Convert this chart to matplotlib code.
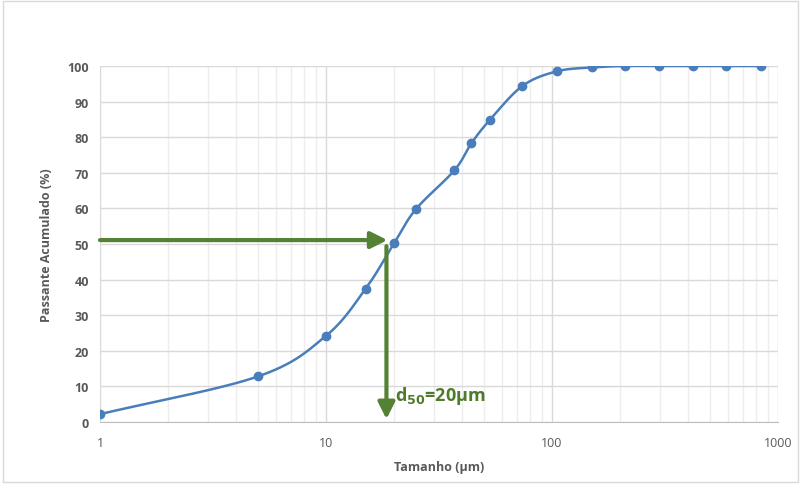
import numpy as np
import matplotlib.pyplot as plt
from matplotlib.patches import Rectangle

# particle size (um) and cumulative passing (%)
tamanho = [1, 5, 10, 15, 20, 25, 37, 44, 53, 74, 105, 150, 210, 297, 420, 590, 840]
passante = [2.2, 12.8, 24.2, 37.5, 50.2, 59.8, 70.7, 78.3, 84.8, 94.4, 98.5, 99.6, 100, 100, 100, 100, 100]

d50_x = 18.7
d50_y = 51.1
y_ticks = list(range(0, 101, 10))
x_ticks = [1, 10, 100, 1000]


def smooth_curve(xs, ys, n=30):
    # catmull-rom through the points in (log x, y) space
    px = np.log10(xs) * 35.6
    py = np.array(ys, dtype=float)
    px = np.concatenate([[2 * px[0] - px[1]], px, [2 * px[-1] - px[-2]]])
    py = np.concatenate([[2 * py[0] - py[1]], py, [2 * py[-1] - py[-2]]])
    out_x, out_y = [], []
    t = np.linspace(0, 1, n)
    for i in range(1, len(px) - 2):
        for arr, out in ((px, out_x), (py, out_y)):
            p0, p1, p2, p3 = arr[i - 1], arr[i], arr[i + 1], arr[i + 2]
            out.extend(0.5 * ((2 * p1) + (-p0 + p2) * t
                              + (2 * p0 - 5 * p1 + 4 * p2 - p3) * t ** 2
                              + (-p0 + 3 * p1 - 3 * p2 + p3) * t ** 3))
    return 10 ** (np.array(out_x) / 35.6), np.array(out_y)


plt.rcParams['font.family'] = ['Open Sans', 'DejaVu Sans']
fig = plt.figure(figsize=(8.01, 4.85), dpi=100)
ax = fig.add_axes([100 / 801, 1 - 423 / 485, 678 / 801, 356 / 485])

fig.patches.append(Rectangle((0.004, 0.004), 0.992, 0.992, transform=fig.transFigure,
                             fill=False, edgecolor='#d9d9d9', linewidth=1))

ax.set_xscale('log')
ax.set_xlim(1, 1000)
ax.set_ylim(0, 100)
ax.set_yticks(y_ticks)
ax.set_xticks(x_ticks)
ax.set_xticklabels([str(v) for v in x_ticks])
ax.grid(True, which='major', color='#d9d9d9', linewidth=1)
ax.grid(True, which='minor', axis='x', color='#ededed', linewidth=1)
ax.set_axisbelow(True)
ax.tick_params(which='both', length=0, colors='#595959', labelsize=9)
ax.tick_params(axis='x', pad=10)
ax.tick_params(axis='y', pad=8)
for lab in ax.get_yticklabels():
    lab.set_fontweight('bold')
for side in ['top', 'right']:
    ax.spines[side].set_visible(False)
ax.spines['left'].set_visible(False)
ax.spines['bottom'].set_color('#bfbfbf')

cx, cy = smooth_curve(tamanho, passante)
ax.plot(cx, cy, color='#4a7ebb', linewidth=1.8, zorder=3)
ax.plot(tamanho, passante, 'o', color='#4a7ebb', markersize=6, zorder=4)

green = '#548235'
ax.annotate('', xy=(d50_x, d50_y), xytext=(1, d50_y),
            arrowprops=dict(arrowstyle='-|>,head_length=1.0,head_width=0.5',
                            color=green, lw=3, shrinkA=0, shrinkB=0), zorder=5)
ax.annotate('', xy=(d50_x * 0.99, 0.8), xytext=(d50_x * 0.99, 49.4),
            arrowprops=dict(arrowstyle='-|>,head_length=1.0,head_width=0.5',
                            color=green, lw=3, shrinkA=0, shrinkB=0), zorder=5)
ax.text(20.3, 4.5, r'd$_{\mathbf{50}}$=20µm', color='#4e7a2c', fontsize=13,
        fontweight='bold', ha='left', va='bottom')

ax.set_xlabel('Tamanho (µm)', color='#595959', fontsize=9, fontweight='bold', labelpad=8)
ax.set_ylabel('Passante Acumulado (%)', color='#595959', fontsize=9, fontweight='bold', labelpad=10)

fig.savefig('out.png', dpi=100)
